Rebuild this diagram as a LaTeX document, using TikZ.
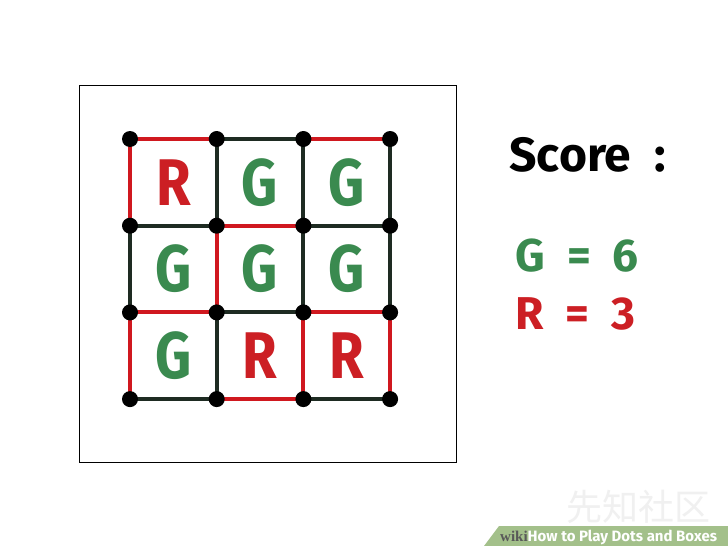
\documentclass[tikz,border=0pt]{standalone}
\usepackage{fontspec}
\setmainfont{Fira Sans}
\newfontfamily\cjkfont{Noto Sans CJK SC}
\newfontfamily\wikifont{Liberation Serif}
\usepackage{xcolor}
\usetikzlibrary{math}

\definecolor{lred}{HTML}{D0181F}
\definecolor{ldark}{HTML}{1E2B22}
\definecolor{tgreen}{HTML}{3A8A4F}
\definecolor{tred}{HTML}{CC1F24}
\definecolor{bgreen}{HTML}{A3C08A}

\tikzset{
  dot/.style={circle, fill=black, inner sep=0pt, minimum size=16pt},
  edge/.style={line width=4pt, line cap=round},
  letter/.style={font=\fontsize{66}{66}\selectfont\bfseries, xscale=0.85},
}

\begin{document}
\begin{tikzpicture}[x=1pt, y=-1pt]
\tikzmath{
\s=86.7;
\xo=130;
\yo=139;
}
\useasboundingbox (0,0) rectangle (728,546);
\fill[white] (0,0) rectangle (728,546);

% faint watermark
\node[text=black!6, font=\cjkfont\fontsize{36}{36}\selectfont, inner sep=0pt] (wm) at (638,507) {先知社区};

% frame
\draw[line width=1pt] (79,85) rectangle (456,462);

% dots
\foreach \i in {0,...,3}{
 \foreach \j in {0,...,3}{
  \coordinate (d\i\j) at (\xo+\i*\s,\yo+\j*\s);
 }
}

% lines
\foreach \a/\b/\c in {00/10/lred, 10/20/ldark, 20/30/lred,
  01/11/ldark, 11/21/lred, 21/31/ldark,
  02/12/lred, 12/22/ldark, 22/32/lred,
  03/13/ldark, 13/23/lred, 23/33/ldark,
  00/01/lred, 01/02/ldark, 02/03/lred,
  10/11/ldark, 11/12/lred, 12/13/ldark,
  20/21/ldark, 21/22/ldark, 22/23/lred,
  30/31/ldark, 31/32/ldark, 32/33/lred}{
 \draw[edge, \c] (d\a) -- (d\b);
}

\foreach \i in {0,...,3}{
 \foreach \j in {0,...,3}{
  \node[dot] (n\i\j) at (d\i\j) {};
 }
}

% letters
\foreach \i/\j/\t/\c in {0/0/R/tred, 1/0/G/tgreen, 2/0/G/tgreen,
  0/1/G/tgreen, 1/1/G/tgreen, 2/1/G/tgreen,
  0/2/G/tgreen, 1/2/R/tred, 2/2/R/tred}{
 \node[letter, text=\c] (c\i\j) at (\xo+\i*\s+0.5*\s,\yo+\j*\s+0.5*\s) {\t};
}

% score
\node[font=\fontsize{48}{48}\selectfont\bfseries, anchor=west] (score) at (506,155) {Score\ \ :};
\node[font=\fontsize{46}{46}\selectfont\bfseries, text=tgreen, anchor=west] (gsc) at (512,256) {G\ \ =\ \ 6};
\node[font=\fontsize{46}{46}\selectfont\bfseries, text=tred, anchor=west] (rsc) at (512,314) {R\ \ =\ \ 3};

% banner
\fill[bgreen] (484,546) -- (499,526) -- (728,526) -- (728,546) -- cycle;
\node[anchor=west, inner sep=0pt, font=\fontsize{15}{15}\selectfont\bfseries] (ban) at (500,537)
 {{\wikifont\color{black!65}wiki}{\color{white}How to Play Dots and Boxes}};
\end{tikzpicture}
\end{document}
